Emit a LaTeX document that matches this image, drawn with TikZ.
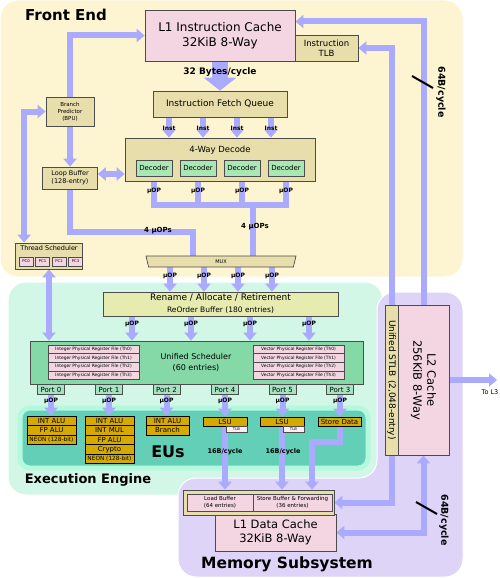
\documentclass[tikz,border=0pt]{standalone}
\usepackage{fontspec}
\setmainfont{DejaVu Sans}
\usetikzlibrary{arrows.meta,shapes.geometric}
\definecolor{frontbg}{HTML}{FDF5D2}
\definecolor{execbg}{HTML}{D2F7E6}
\definecolor{eubg}{HTML}{62CFB6}
\definecolor{eurim}{HTML}{B4F9DE}
\definecolor{membg}{HTML}{DDD4F7}
\definecolor{flowblue}{HTML}{AAAAFF}
\definecolor{tanfill}{HTML}{E8DEAC}
\definecolor{pinkfill}{HTML}{F3D6E2}
\definecolor{decgreen}{HTML}{A9E8B4}
\definecolor{schedgreen}{HTML}{84D9A6}
\definecolor{portgreen}{HTML}{A4E4C0}
\definecolor{renamefill}{HTML}{E6EBB0}
\definecolor{eugold}{HTML}{D4AA00}
\newcommand{\fsz}[2]{\fontsize{#1}{#2}\selectfont}
\pgfdeclarelayer{back}
\pgfdeclarelayer{wires}
\pgfsetlayers{back,wires,main}
\tikzstyle{region}=[rounded corners=18pt,draw=white,line width=1pt]
\tikzstyle{block}=[draw=black!70,line width=0.7pt,inner sep=0pt,align=center]
\tikzstyle{tanbox}=[block,fill=tanfill]
\tikzstyle{pinkbox}=[block,fill=pinkfill]
\tikzstyle{decbox}=[block,fill=decgreen,minimum width=36pt,minimum height=16pt,font=\fsz{7}{8}]
\tikzstyle{pcbox}=[block,fill=pinkfill,minimum width=14pt,minimum height=9pt,font=\fsz{3.8}{4.5}]
\tikzstyle{regfile}=[block,fill=pinkfill,minimum width=91pt,minimum height=8.7pt,font=\fsz{4.4}{5}]
\tikzstyle{port}=[block,fill=portgreen,minimum width=27pt,minimum height=9.5pt,font=\fsz{7}{8}]
\tikzstyle{eu}=[block,draw=black,fill=eugold,minimum height=9.5pt,font=\fsz{7}{8}]
\tikzstyle{tlbbox}=[block,fill=pinkfill!40,minimum width=21pt,minimum height=6pt,font=\fsz{3.8}{4.5}]
\tikzstyle{flow}=[draw=flowblue,line width=6pt]
\tikzstyle{flowarrow}=[flow,->]
\tikzstyle{flowboth}=[flow,<->]
\tikzstyle{rate}=[font=\bfseries\fsz{6}{7}]

\begin{document}
\begin{tikzpicture}[x=1pt,y=-1pt,>={Triangle[width=13pt,length=8pt]}]
    \useasboundingbox (0,0) rectangle (500,578);
    % Regions behind everything
    \begin{pgfonlayer}{back}
        \path[region,fill=frontbg] (0,0) rectangle (463,277);
        \path[region,fill=execbg] (8,282) rectangle (383,495);
        \path[region,fill=eubg,draw=eurim,line width=5pt,rounded corners=10pt] (20,408) rectangle (368,468);
        \path[region,fill=membg] (377,292) -- (463,292) -- (463,577) -- (178,577) -- (178,478) -- (377,478) -- cycle;
    \end{pgfonlayer}
    \node[font=\bfseries\fsz{15}{18}] (frontlabel) at (66,15) {Front End};
    \node[font=\bfseries\fsz{13}{16}] (execlabel) at (88,480) {Execution Engine};
    \node[font=\bfseries\fsz{15.5}{18}] (memlabel) at (287,564) {Memory Subsystem};
    \node[font=\bfseries\fsz{16}{19}] (eulabel) at (168,452) {EUs};

    % Front end
    \node[pinkbox,minimum width=150pt,minimum height=51pt,font=\fsz{12}{15}] (l1i) at (220,35.5) {L1 Instruction Cache\\32KiB 8-Way};
    \node[tanbox,minimum width=63pt,minimum height=26pt,font=\fsz{8.5}{10}] (itlb) at (326.5,48) {Instruction\\TLB};
    \node[tanbox,minimum width=134pt,minimum height=26pt,font=\fsz{9}{11}] (ifq) at (220,104) {Instruction Fetch Queue};
    \node[tanbox,minimum width=190pt,minimum height=43pt] (decode) at (220,159.5) {};
    \node[font=\fsz{8.5}{10}] (decodetitle) at (220,150) {4-Way Decode};
    \foreach \i/\x in {1/154,2/198,3/242,4/286}
        \node[decbox] (dec\i) at (\x,168) {Decoder};
    \node[tanbox,minimum width=48pt,minimum height=29pt,font=\fsz{5.5}{6.8}] (bpu) at (70,111.5) {Branch\\Predictor\\(BPU)};
    \node[tanbox,minimum width=55pt,minimum height=22pt,font=\fsz{6.5}{8}] (loop) at (70,178) {Loop Buffer\\(128-entry)};
    \node[tanbox,minimum width=67pt,minimum height=26pt] (ts) at (49,256) {};
    \node[font=\fsz{6.5}{8}] (tstitle) at (49,248.5) {Thread Scheduler};
    \foreach \i/\x in {0/26,1/42.5,2/59,3/75.5}
        \node[pcbox] (pc\i) at (\x,261.5) {PC\i};
    \node[tanbox,trapezium,shape border rotate=180,trapezium angle=55,trapezium stretches body,
          minimum width=150pt,minimum height=11pt,font=\fsz{5}{6}] (mux) at (221,261.5) {MUX};

    % Execution engine
    \node[block,fill=renamefill,minimum width=235pt,minimum height=24pt] (rob) at (220.5,304)
        {\fsz{9}{10}Rename / Allocate / Retirement\\\fsz{7.5}{9.5}ReOrder Buffer (180 entries)};
    \node[block,fill=schedgreen,minimum width=333pt,minimum height=43pt] (sched) at (196.5,362.5) {};
    \node[align=center,font=\fsz{8}{10.5}] (schedtext) at (196,362.5) {Unified Scheduler\\(60 entries)};
    \foreach \i/\y in {0/349.3,1/358,2/366.7,3/375.4} {
        \node[regfile] (irf\i) at (93.5,\y) {Integer Physical Register File (Th\i)};
        \node[regfile] (vrf\i) at (298.5,\y) {Vector Physical Register File (Th\i)};
    }
    \foreach \name/\x/\num in {p0/51/0,p1/109/1,p2/166.5/2,p4/225/4,p5/282.5/5,p3/340/3}
        \node[port] (\name) at (\x,389.5) {Port \num};
    \foreach \t [count=\k from 0] in {INT ALU,FP ALU,\fsz{5.8}{7}NEON (128-bit)}
        \node[eu,minimum width=49pt] (eua\k) at (51.5,{420.75+9.5*\k}) {\t};
    \foreach \t [count=\k from 0] in {INT ALU,INT MUL,FP ALU,Crypto,\fsz{5.8}{7}NEON (128-bit)}
        \node[eu,minimum width=49pt] (eub\k) at (109.5,{420.75+9.5*\k}) {\t};
    \foreach \t [count=\k from 0] in {INT ALU,Branch}
        \node[eu,minimum width=43pt] (euc\k) at (167.5,{420.75+9.5*\k}) {\t};
    \node[eu,minimum width=44pt,minimum height=9pt] (lsu1) at (225,421.5) {LSU};
    \node[tlbbox] (tlb1) at (236.5,429) {TLB};
    \node[eu,minimum width=44pt,minimum height=9pt] (lsu2) at (282,421.5) {LSU};
    \node[tlbbox] (tlb2) at (293.5,429) {TLB};
    \node[eu,minimum width=43pt,minimum height=9pt] (sd) at (339.5,421.5) {Store Data};

    % Memory subsystem
    \node[pinkbox,minimum width=121pt,minimum height=37pt,font=\fsz{11.5}{14.5}] (l1d) at (275.5,532.5) {L1 Data Cache\\32KiB 8-Way};
    \node[tanbox,minimum width=151pt,minimum height=25pt] (lsq) at (258.5,502.5) {};
    \node[pinkbox,minimum width=66pt,minimum height=17pt,font=\fsz{5.5}{6.5}] (ldbuf) at (220,502.5) {Load Buffer\\(64 entries)};
    \node[pinkbox,minimum width=79pt,minimum height=17pt,font=\fsz{5.5}{6.5}] (stbuf) at (292.5,502.5) {Store Buffer \& Forwarding\\(36 entries)};
    \node[tanbox,rotate=-90,minimum width=150pt,minimum height=13pt,font=\fsz{9}{11}] (stlb) at (391.5,380) {Unified STLB (2,048-entry)};
    \node[pinkbox,rotate=-90,minimum width=150pt,minimum height=51pt,font=\fsz{11.5}{14}] (l2) at (423.5,380) {L2 Cache\\256KiB 8-Way};
    \coordinate (l3) at (497,380);
    \node[font=\fsz{6.5}{8}] (l3label) at (490,392) {To L3};

    % Connections
    \coordinate (bus) at (253,205);
    \coordinate (lbturn) at (70,232);
    \coordinate (sdturn) at (312,442);
    \begin{pgfonlayer}{wires}
        \draw[draw=flowblue,line width=16pt,-{Triangle[width=32pt,length=13pt]}] (l1i.center) -- (ifq.north);
        \draw[flowarrow] (bpu.center) |- (l1i.west);
        \draw[flowarrow] (bpu.center) -- (loop.north);
        \draw[flowboth] (bpu.west) -| ([xshift=9pt]ts.north west);
        \draw[flowboth] ([yshift=4pt]loop.east) -- ([yshift=4pt]loop.east -| decode.west);
        \draw[flowboth] (ts.south) -- (ts.south |- sched.north);
        \foreach \dx in {-51,-17,17,51}
            \draw[flowarrow] ([xshift=\dx pt]ifq.center) -- ([xshift=\dx pt]decode.north);
        \draw[flow] (dec1.center) |- (dec4 |- bus) -- (dec4.center);
        \draw[flow] (dec2.center) -- (dec2 |- bus);
        \draw[flow] (dec3.center) -- (dec3 |- bus);
        \draw[flow] (bus) -- (bus |- mux.center);
        \draw[flow] (loop.center) -- (lbturn) -| ([xshift=-28pt]mux.center);
        \foreach \dx in {-51,-17,17,51}
            \draw[flowarrow] ([xshift=\dx pt]mux.center) -- ([xshift=\dx pt]mux.center |- rob.north);
        \foreach \dx in {-88.5,-29.5,29.5,88.5}
            \draw[flowarrow] ([xshift=\dx pt]rob.center) -- ([xshift=\dx pt]rob.center |- sched.north);
        \foreach \p/\u in {p0/eua0,p1/eub0,p2/euc0,p4/lsu1,p5/lsu2,p3/sd}
            \draw[flowarrow] (\p.center) -- (\p |- \u.north);
        \draw[flowarrow] (lsu1.center) -- (lsu1 |- lsq.north);
        \draw[flowarrow] (lsu2.center) -- (lsu2 |- lsq.north);
        \draw[flowarrow] (sd.center) |- (sdturn) -- (sdturn |- lsq.north);
        \draw[flowarrow] (l2.center) |- ([yshift=14pt]l1i.east);
        \draw[flowarrow] (stlb.center) |- (itlb.east);
        \draw[flowarrow] (stlb.center) |- (lsq.east);
        \draw[flowboth] (l1d.east) -| (l2.east);
        \draw[flowarrow] (l2.center) -- (l3);
    \end{pgfonlayer}

    % Bandwidth and uop labels
    \node[font=\bfseries\fsz{9}{11}] (l1rate) at (220,72) {32 Bytes/cycle};
    \foreach \dx [count=\k] in {-51,-17,17,51} {
        \node[rate] (inst\k) at ({220+\dx},128) {Inst};
        \node[rate] (muxop\k) at ({221+\dx},276) {µOP};
    }
    \foreach \i in {1,...,4}
        \node[rate] (decop\i) at (dec\i |- 0,191) {µOP};
    \foreach \dx [count=\k] in {-88.5,-29.5,29.5,88.5}
        \node[rate] (robop\k) at ({220.5+\dx},324) {µOP};
    \foreach \p in {p0,p1,p2,p4,p5,p3}
        \node[rate] (op\p) at ([yshift=-11.5pt]\p.center) {µOP};
    \node[rate,font=\bfseries\fsz{7}{8}] (loopops) at (158,231) {4 µOPs};
    \node[rate,font=\bfseries\fsz{7}{8}] (decops) at (255,227) {4 µOPs};
    \node[rate,font=\bfseries\fsz{6.5}{8}] (ldrate) at (225,452) {16B/cycle};
    \node[rate,font=\bfseries\fsz{6.5}{8}] (strate) at (283,452) {16B/cycle};
    \node[rate,font=\bfseries\fsz{9.5}{11},rotate=-90] (l2rate) at (441,92) {64B/cycle};
    \node[rate,font=\bfseries\fsz{9.5}{11},rotate=-90] (l1drate) at (444,520) {64B/cycle};
    \draw[line width=2pt] (412,76) -- (433,88);
    \draw[line width=2pt] (416,502) -- (437,514);
\end{tikzpicture}
\end{document}
